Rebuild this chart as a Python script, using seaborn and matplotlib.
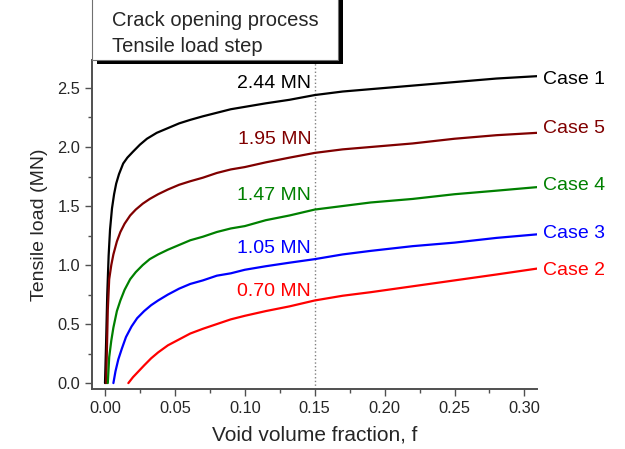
import seaborn as sns
import matplotlib.pyplot as plt
import pandas as pd
from matplotlib.patches import Rectangle
from matplotlib.ticker import MultipleLocator

# curve data: void volume fraction f vs tensile load (MN)
f_case1 = [0.0, 0.0008, 0.0016, 0.0026, 0.0036, 0.0050, 0.0065, 0.0080, 0.010, 0.013, 0.016, 0.020,
           0.025, 0.030, 0.037, 0.045, 0.053, 0.061, 0.070, 0.080, 0.090, 0.100, 0.115, 0.132,
           0.150, 0.170, 0.190, 0.220, 0.250, 0.280, 0.309]
load_case1 = [0.0, 0.35, 0.75, 1.08, 1.30, 1.48, 1.60, 1.69, 1.77, 1.86, 1.91, 1.96,
              2.02, 2.07, 2.12, 2.16, 2.20, 2.23, 2.26, 2.29, 2.32, 2.34, 2.37, 2.40,
              2.44, 2.47, 2.49, 2.52, 2.55, 2.58, 2.60]

f_case5 = [0.0008, 0.0014, 0.0020, 0.0030, 0.0045, 0.0060, 0.0085, 0.011, 0.014, 0.018, 0.022,
           0.027, 0.032, 0.038, 0.045, 0.053, 0.061, 0.070, 0.080, 0.090, 0.100, 0.115, 0.132,
           0.150, 0.170, 0.190, 0.220, 0.250, 0.280, 0.309]
load_case5 = [0.0, 0.30, 0.62, 0.88, 1.00, 1.09, 1.20, 1.28, 1.35, 1.42, 1.47,
              1.52, 1.56, 1.60, 1.64, 1.68, 1.71, 1.74, 1.78, 1.81, 1.83, 1.87, 1.91,
              1.95, 1.98, 2.00, 2.03, 2.07, 2.10, 2.12]

f_case4 = [0.0020, 0.0030, 0.0045, 0.0060, 0.0085, 0.011, 0.014, 0.018, 0.022, 0.027, 0.032,
           0.038, 0.045, 0.053, 0.061, 0.070, 0.080, 0.090, 0.100, 0.115, 0.132, 0.150,
           0.170, 0.190, 0.220, 0.250, 0.280, 0.309]
load_case4 = [0.0, 0.22, 0.36, 0.47, 0.61, 0.70, 0.79, 0.88, 0.94, 1.00, 1.05,
              1.09, 1.13, 1.17, 1.21, 1.24, 1.28, 1.31, 1.33, 1.38, 1.42, 1.47,
              1.50, 1.53, 1.56, 1.60, 1.63, 1.66]

f_case3 = [0.0060, 0.0075, 0.0095, 0.012, 0.015, 0.019, 0.023, 0.028, 0.033, 0.038, 0.045,
           0.053, 0.061, 0.070, 0.080, 0.090, 0.100, 0.115, 0.132, 0.150, 0.170, 0.190,
           0.220, 0.250, 0.280, 0.309]
load_case3 = [0.0, 0.10, 0.20, 0.29, 0.39, 0.48, 0.55, 0.61, 0.66, 0.70, 0.75,
              0.80, 0.84, 0.87, 0.91, 0.93, 0.96, 0.99, 1.02, 1.05, 1.09, 1.12,
              1.16, 1.19, 1.23, 1.26]

f_case2 = [0.0167, 0.020, 0.024, 0.028, 0.033, 0.038, 0.045, 0.053, 0.061, 0.070, 0.080,
           0.090, 0.100, 0.115, 0.132, 0.150, 0.170, 0.190, 0.220, 0.250, 0.280, 0.309]
load_case2 = [0.0, 0.05, 0.10, 0.15, 0.21, 0.26, 0.32, 0.37, 0.42, 0.46, 0.50,
              0.54, 0.57, 0.61, 0.65, 0.70, 0.74, 0.77, 0.82, 0.87, 0.92, 0.97]

cases = ['Case 1', 'Case 5', 'Case 4', 'Case 3', 'Case 2']
colors = ['#000000', '#800000', '#008000', '#0000FF', '#FF0000']
loads_at_015 = ['2.44 MN', '1.95 MN', '1.47 MN', '1.05 MN', '0.70 MN']
label_y = [2.54, 2.06, 1.59, 1.14, 0.78]
case_label_y = [2.57, 2.16, 1.67, 1.27, 0.95]

frames = []
for name, fv, lv in zip(cases,
                        [f_case1, f_case5, f_case4, f_case3, f_case2],
                        [load_case1, load_case5, load_case4, load_case3, load_case2]):
    frames.append(pd.DataFrame({'f': fv, 'load': lv, 'case': name}))
df = pd.concat(frames, ignore_index=True)

sns.set_style('ticks')
plt.rcParams['font.family'] = ['Liberation Sans', 'DejaVu Sans']

W, H = 625, 449
fig = plt.figure(figsize=(6.25, 4.49), dpi=100)
ax = fig.add_axes([92 / W, 60 / H, 445 / W, 329 / H])

sns.lineplot(data=df, x='f', y='load', hue='case', hue_order=cases,
             palette=dict(zip(cases, colors)), linewidth=1.6, legend=False,
             sort=False, ax=ax)

ax.axvline(0.15, color='gray', linestyle=':', linewidth=1.0, zorder=0)

for txt, y, c in zip(loads_at_015, label_y, colors):
    ax.text(0.1475, y, txt, color=c, fontsize=14, ha='right', va='center')
for txt, y, c in zip(cases, case_label_y, colors):
    ax.text(0.3135, y, txt, color=c, fontsize=14, ha='left', va='center', clip_on=False)

ax.set_xlim(-0.0093, 0.309)
ax.set_ylim(-0.05, 2.737)
ax.xaxis.set_major_locator(MultipleLocator(0.05))
ax.xaxis.set_minor_locator(MultipleLocator(0.025))
ax.yaxis.set_major_locator(MultipleLocator(0.5))
ax.yaxis.set_minor_locator(MultipleLocator(0.25))
ax.xaxis.set_major_formatter(plt.FormatStrFormatter('%.2f'))
ax.yaxis.set_major_formatter(plt.FormatStrFormatter('%.1f'))
spine_col = '#505050'
ax.tick_params(which='major', length=5, width=1, labelsize=11.8, direction='out', color=spine_col)
ax.tick_params(which='minor', length=3, width=1, direction='out', color=spine_col)
sns.despine(ax=ax)
for s in ['left', 'bottom']:
    ax.spines[s].set_linewidth(1.4)
    ax.spines[s].set_color(spine_col)

ax.set_xlabel('Void volume fraction, f', fontsize=15, labelpad=7)
ax.set_ylabel('Tensile load (MN)', fontsize=14, labelpad=7)

# annotation box with shadow above the plot area
fig.patches.append(Rectangle((97 / W, (H - 64) / H), 246 / W, 80 / H,
                             transform=fig.transFigure, facecolor='black',
                             edgecolor='none', zorder=5))
fig.patches.append(Rectangle((92 / W, (H - 60) / H), 246 / W, 80 / H,
                             transform=fig.transFigure, facecolor='white',
                             edgecolor='#707070', linewidth=0.8, zorder=6))
fig.text(112 / W, (H - 21) / H, 'Crack opening process', fontsize=14.5, va='center', zorder=7)
fig.text(112 / W, (H - 46) / H, 'Tensile load step', fontsize=14.5, va='center', zorder=7)

fig.savefig('out.png', dpi=100)
